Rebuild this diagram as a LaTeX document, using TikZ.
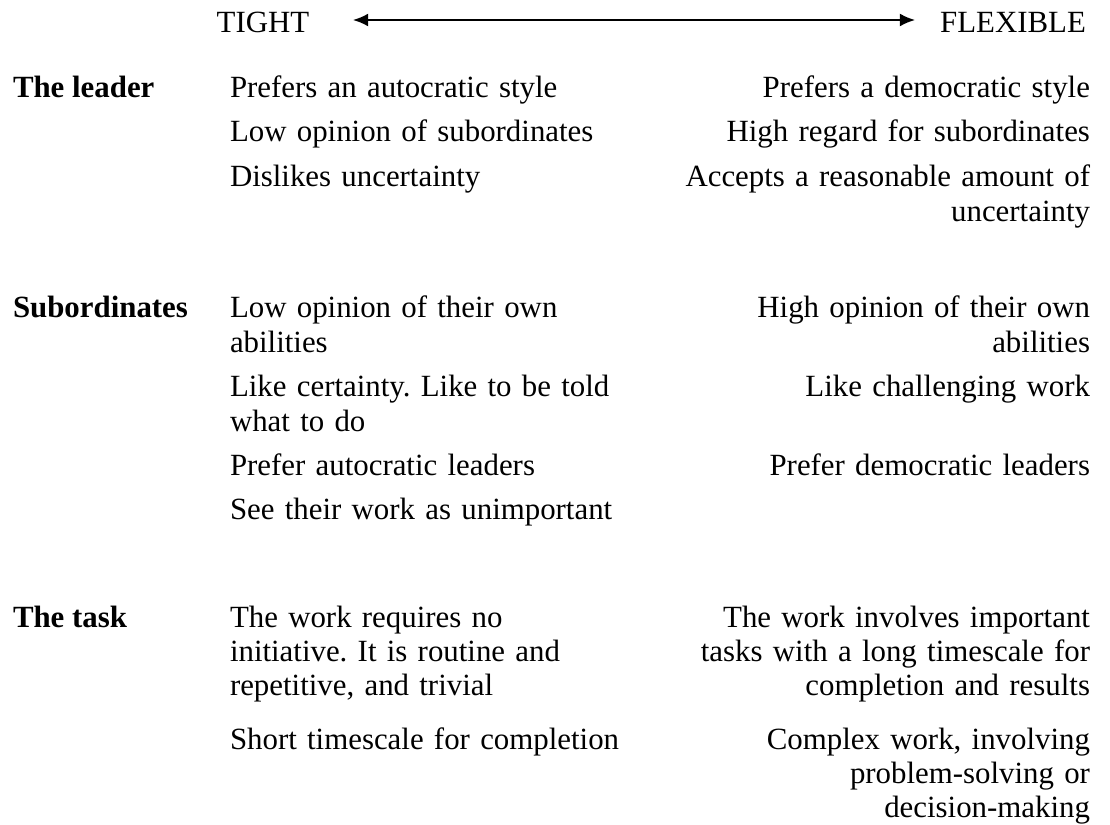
\documentclass[tikz,border=0pt]{standalone}
\usepackage{fontspec}
\setmainfont{Liberation Serif}
\frenchspacing
\usetikzlibrary{arrows.meta}

\tikzset{
  every node/.style={inner sep=0pt, outer sep=0pt, font=\fontsize{12.9}{14.4}\selectfont},
  rowname/.style={anchor=base west, font=\fontsize{12.9}{14.4}\selectfont\bfseries},
  tightcol/.style={anchor=base west, text width=190pt, align=left},
  flexcol/.style={anchor=base east, text width=190pt, align=right},
  scalehead/.style={anchor=base},
  scalearrow/.style={{Latex[length=6.3pt,width=5.4pt]}-{Latex[length=6.3pt,width=5.4pt]}, line width=0.8pt},
}

\begin{document}
\begin{tikzpicture}[x=0.418pt, y=-0.418pt]
            % Frame to fix the page size:
            \useasboundingbox                                   (   0,   0) rectangle (1110, 825);

            % Scale from tight to flexible
            \node[scalehead] (tight)    at ( 263,  33) {TIGHT};
            \node[scalehead] (flexible) at (1013,  33) {FLEXIBLE};
            \coordinate (tightend) at ( 353,  20);
            \coordinate (flexend)  at ( 915,  20);
            \draw[scalearrow] (tightend) -- (flexend);

            % The leader
            \node[rowname]  (leader)   at (  13,  98) {The leader};
            \node[tightcol] (leaderT1) at ( 230,  98) {Prefers an autocratic style};
            \node[flexcol]  (leaderF1) at (1090,  98) {Prefers a democratic style};
            \node[tightcol] (leaderT2) at ( 230, 142) {Low opinion of subordinates};
            \node[flexcol]  (leaderF2) at (1090, 142) {High regard for subordinates};
            \node[tightcol] (leaderT3) at ( 230, 187) {Dislikes uncertainty};
            \node[flexcol]  (leaderF3) at (1090, 187) {Accepts a reasonable amount of\\uncertainty};

            % Subordinates
            \node[rowname]  (subs)     at (  13, 318) {Subordinates};
            \node[tightcol] (subsT1)   at ( 230, 318) {Low opinion of their own\\abilities};
            \node[flexcol]  (subsF1)   at (1090, 318) {High opinion of their own\\abilities};
            \node[tightcol] (subsT2)   at ( 230, 397) {Like certainty. Like to be told\\what to do};
            \node[flexcol]  (subsF2)   at (1090, 397) {Like challenging work};
            \node[tightcol] (subsT3)   at ( 230, 476) {Prefer autocratic leaders};
            \node[flexcol]  (subsF3)   at (1090, 476) {Prefer democratic leaders};
            \node[tightcol] (subsT4)   at ( 230, 520) {See their work as unimportant};

            % The task
            \node[rowname]  (task)     at (  13, 627) {The task};
            \node[tightcol] (taskT1)   at ( 230, 627) {The work requires no\\initiative. It is routine and\\repetitive, and trivial};
            \node[flexcol]  (taskF1)   at (1090, 627) {The work involves important\\tasks with a long timescale for\\completion and results};
            \node[tightcol] (taskT2)   at ( 230, 749) {Short timescale for completion};
            \node[flexcol]  (taskF2)   at (1090, 749) {Complex work, involving\\problem-solving or\\decision-making};
        \end{tikzpicture}
\end{document}
